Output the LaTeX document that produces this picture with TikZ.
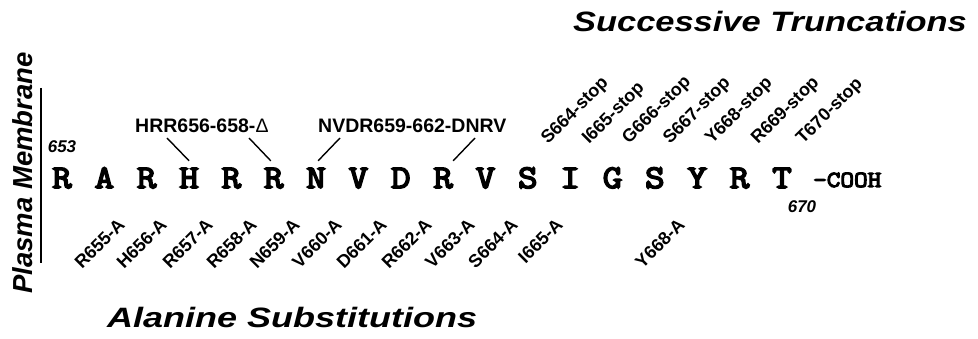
\documentclass[tikz,border=0pt]{standalone}
\usepackage{fontspec}
\setmainfont{Liberation Sans}
\newfontfamily\titlefont{Liberation Sans}[FakeStretch=1.23]
\newfontfamily\resfont{Latin Modern Mono}[FakeBold=5, FakeStretch=1.15]
\begin{document}
\begin{tikzpicture}[x=1pt,y=-1pt,
  res/.style={font=\resfont\fontsize{33}{33}\selectfont, anchor=base, inner sep=0pt, text height=27pt, text depth=0pt},
  lbl/.style={font=\bfseries\fontsize{19.5}{20}\selectfont, inner sep=0pt},
  rlbl/.style={font=\bfseries\fontsize{18}{18}\selectfont, inner sep=0pt, rotate=45},
  ala/.style={rlbl, anchor=base east},
  stp/.style={rlbl, anchor=base west},
  num/.style={font=\bfseries\itshape\fontsize{17}{17}\selectfont, inner sep=0pt, anchor=base},
  ttl/.style={font=\titlefont\bfseries\itshape\fontsize{28}{28}\selectfont, inner sep=0pt},
  conn/.style={line width=1.4pt}
]
\useasboundingbox (0,0) rectangle (978,339);
% residues
\foreach \L [count=\i from 0] in {R,A,R,H,R,R,N,V,D,R,V,S,I,G,S,Y,R,T}
  \node[res] (r\i) at ({62+42.35*\i},188) {\L};
\node[num] (n653) at (62,153) {653};
\node[num] (n670) at (802,213) {670};
\node[font=\resfont\fontsize{23}{23}\selectfont, anchor=base west, inner sep=0pt] (cooh) at (813,187) {-COOH};
% membrane
\coordinate (m1) at (41,88);
\coordinate (m2) at (41,263);
\draw[line width=1.3pt] (m1) -- (m2);
\node[font=\bfseries\itshape\fontsize{27.5}{28}\selectfont, rotate=90, anchor=base, inner sep=0pt] (pm) at (32,173) {Plasma Membrane};
% deletion / replacement labels
\node[lbl, anchor=base west] (hrr) at (135,133) {HRR656-658-{\mdseries Δ}};
\node[lbl, anchor=base west] (nvdr) at (318,133) {NVDR659-662-DNRV};
\coordinate (a1) at (167,138);
\coordinate (a2) at (249,138);
\coordinate (a3) at (340,138);
\coordinate (a4) at (475,138);
\draw[conn] (a1) -- (r3.north);
\draw[conn] (a2) -- ([xshift=-3pt]r5.north);
\draw[conn] (a3) -- ([xshift=2pt]r6.north);
\draw[conn] (a4) -- ([xshift=10pt]r9.north);
% alanine substitutions
\foreach \x/\t [count=\k] in {126/R655-A,168/H656-A,214/R657-A,258/R658-A,301/N659-A,343/V660-A,388/D661-A,433/R662-A,476/V663-A,519/S664-A,564/I665-A,686/Y668-A}
  \node[ala] (ala\k) at (\x,226) {\t};
% truncations
\foreach \x/\t [count=\k] in {548/S664-stop,589/I665-stop,629/G666-stop,670/S667-stop,712/Y668-stop,758/R669-stop,803/T670-stop}
  \node[stp] (stp\k) at (\x,145) {\t};
% titles
\node[ttl, anchor=base east] (ttrunc) at (967,32) {Successive Truncations};
\node[ttl, anchor=base west, xscale=1.045] (tala) at (107,327) {Alanine Substitutions};
\end{tikzpicture}
\end{document}
